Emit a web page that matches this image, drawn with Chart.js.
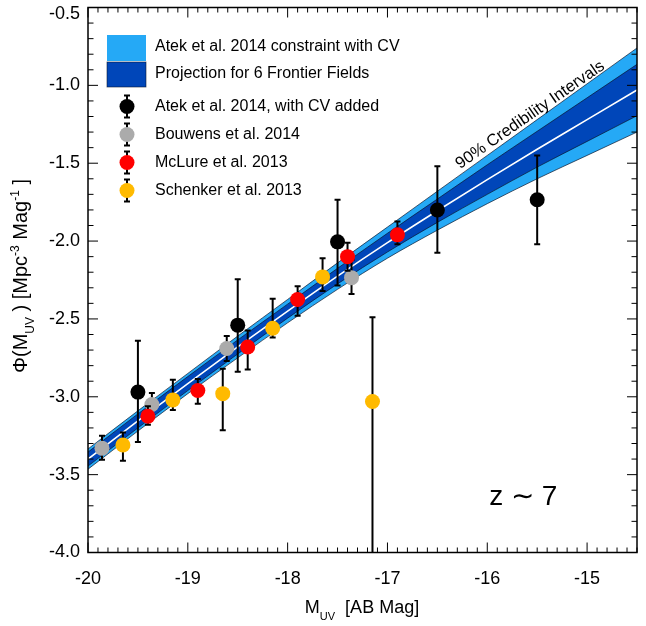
<!DOCTYPE html>
<html>
<head>
<meta charset="utf-8">
<script src="https://cdn.jsdelivr.net/npm/chart.js@4.4.1/dist/chart.umd.min.js"></script>
<style>
  html, body { margin: 0; padding: 0; background: #fff; }
  #wrap { width: 646px; height: 626px; }
</style>
</head>
<body>
<div id="wrap"><canvas id="lfChart" width="646" height="626"></canvas></div>
<script>
// axis ticks
const xTicks = [-20, -19, -18, -17, -16, -15];
const yTicks = [-4.0, -3.5, -3.0, -2.5, -2.0, -1.5, -1.0, -0.5];

const bandMag    = [-20, -19.5, -19, -18.5, -18, -17.5, -17, -16.5, -16, -15.5, -15, -14.5];
const bandCenter = [-3.40, -3.155, -2.915, -2.68, -2.45, -2.225, -2.01, -1.805, -1.605, -1.41, -1.22, -1.03];
const cvHi = [-3.335, -3.09, -2.85, -2.61, -2.375, -2.14, -1.91, -1.68, -1.45, -1.22, -0.99, -0.76];
const cvLo = [-3.465, -3.22, -2.98, -2.75, -2.525, -2.31, -2.11, -1.93, -1.76, -1.60, -1.45, -1.30];
const ffHi = [-3.355, -3.11, -2.87, -2.635, -2.405, -2.175, -1.95, -1.73, -1.51, -1.295, -1.08, -0.865];
const ffLo = [-3.445, -3.20, -2.96, -2.725, -2.495, -2.275, -2.07, -1.88, -1.70, -1.525, -1.36, -1.195];

// Atek et al. 2014, with CV added
const atekMag = [-19.5, -18.5, -17.5, -16.5, -15.5];
const atekPhi = [-2.97, -2.54, -2.005, -1.80, -1.735];
const atekHi  = [-2.64, -2.245, -1.735, -1.52, -1.45];
const atekLo  = [-3.29, -2.84, -2.285, -2.075, -2.02];

// Bouwens et al. 2014
const bouwMag = [-19.86, -19.36, -18.61, -17.36];
const bouwPhi = [-3.33, -3.05, -2.69, -2.235];
const bouwHi  = [-3.25, -2.975, -2.61, -2.12];
const bouwLo  = [-3.405, -3.125, -2.77, -2.34];

// McLure et al. 2013
const mclMag = [-19.40, -18.90, -18.40, -17.90, -17.40, -16.90];
const mclPhi = [-3.125, -2.96, -2.68, -2.375, -2.10, -1.96];
const mclHi  = [-3.06, -2.885, -2.575, -2.29, -2.01, -1.875];
const mclLo  = [-3.18, -3.045, -2.825, -2.48, -2.19, -2.02];

// Schenker et al. 2013 (last lower bar runs off the plot)
const schMag = [-19.65, -19.15, -18.65, -18.15, -17.65, -17.15];
const schPhi = [-3.31, -3.02, -2.98, -2.56, -2.23, -3.03];
const schHi  = [-3.23, -2.89, -2.82, -2.37, -2.11, -2.49];
const schLo  = [-3.41, -3.085, -3.215, -2.62, -2.32, -5.0];

const LIGHT = '#25A9F6';
const DARK = '#0046B9';
const FONT = '"Liberation Sans", Arial, Helvetica, sans-serif';

const xy = (xs, ys) => xs.map((v, i) => ({ x: v, y: ys[i] }));

function bandLine(label, ys, extra) {
    return Object.assign({
        type: 'line',
        label: label,
        data: xy(bandMag, ys),
        pointRadius: 0,
        borderColor: 'rgba(10,20,40,0.85)',
        borderWidth: 0.8,
        cubicInterpolationMode: 'monotone',
        fill: false
    }, extra);
}

function points(label, color, xs, ys, hi, lo, order) {
    return {
        type: 'scatter',
        label: label,
        data: xy(xs, ys),
        errHi: hi,
        errLo: lo,
        backgroundColor: color,
        borderWidth: 0,
        pointRadius: 7.5,
        order: order
    };
}

// vertical error bars, drawn just before each dataset's markers
const errorBars = {
    id: 'errorBars',
    beforeDatasetDraw(chart, args) {
        const ds = chart.data.datasets[args.index];
        if (!ds.errHi) return;
        const { ctx, chartArea: a, scales: { x, y } } = chart;
        ctx.save();
        ctx.beginPath();
        ctx.rect(a.left, a.top, a.right - a.left, a.bottom - a.top);
        ctx.clip();
        ctx.strokeStyle = '#000';
        ctx.lineWidth = 2;
        ds.data.forEach((p, i) => {
            const px = x.getPixelForValue(p.x);
            const top = y.getPixelForValue(ds.errHi[i]);
            const bot = y.getPixelForValue(ds.errLo[i]);
            ctx.beginPath();
            ctx.moveTo(px, top); ctx.lineTo(px, bot);
            ctx.moveTo(px - 3, top); ctx.lineTo(px + 3, top);
            ctx.moveTo(px - 3, bot); ctx.lineTo(px + 3, bot);
            ctx.stroke();
        });
        ctx.restore();
    }
};

function richText(ctx, parts, cx, cy, rot) {
    ctx.save();
    ctx.translate(cx, cy);
    ctx.rotate(rot || 0);
    let w = 0;
    parts.forEach(p => { ctx.font = p[1] + 'px ' + FONT; w += ctx.measureText(p[0]).width; });
    let x = -w / 2;
    ctx.textAlign = 'left';
    ctx.textBaseline = 'alphabetic';
    ctx.fillStyle = '#000';
    parts.forEach(p => {
        ctx.font = p[1] + 'px ' + FONT;
        ctx.fillText(p[0], x, 6.5 + p[2]);
        x += ctx.measureText(p[0]).width;
    });
    ctx.restore();
}

// box, inward ticks, labels, titles, annotations and legend
const frame = {
    id: 'frame',
    afterDraw(chart) {
        const { ctx, chartArea: a, scales: { x, y } } = chart;
        ctx.save();
        ctx.strokeStyle = '#000';

        ctx.lineWidth = 1;
        ctx.beginPath();
        for (let i = -200; i <= -145; i++) {
            const px = x.getPixelForValue(i / 10);
            const len = i % 10 === 0 ? 10 : 5;
            ctx.moveTo(px, a.bottom); ctx.lineTo(px, a.bottom - len);
            ctx.moveTo(px, a.top); ctx.lineTo(px, a.top + len);
        }
        for (let i = -40; i <= -5; i++) {
            const py = y.getPixelForValue(i / 10);
            const len = i % 5 === 0 ? 10 : 5.5;
            ctx.moveTo(a.left, py); ctx.lineTo(a.left + len, py);
            ctx.moveTo(a.right, py); ctx.lineTo(a.right - len, py);
        }
        ctx.stroke();

        ctx.lineWidth = 1.5;
        ctx.strokeRect(a.left, a.top, a.right - a.left, a.bottom - a.top);

        // tick labels
        ctx.fillStyle = '#000';
        ctx.font = '18px ' + FONT;
        ctx.textAlign = 'center';
        ctx.textBaseline = 'middle';
        x.ticks.forEach(t => ctx.fillText(String(t.value), x.getPixelForValue(t.value), 579));
        ctx.textAlign = 'right';
        y.ticks.forEach(t => {
            const py = Math.max(y.getPixelForValue(t.value), 14);
            ctx.fillText(t.value.toFixed(1), 80, py);
        });

        // axis titles
        richText(ctx, [['M', 18, 0], ['UV', 11, 7], ['  [AB Mag]', 18, 0]], 362, 606);
        richText(ctx, [['\u03A6(M', 20, 0], ['UV', 12, 7], [' ) [Mpc', 20, 0], ['-3', 12, -8],
                       [' Mag', 20, 0], ['-1', 12, -8], [' ]', 20, 0]], 20, 276, -Math.PI / 2);

        // annotations
        ctx.font = '16.5px ' + FONT;
        ctx.textAlign = 'center';
        ctx.textBaseline = 'middle';
        ctx.save();
        ctx.translate(x.getPixelForValue(-15.57), y.getPixelForValue(-1.19));
        ctx.rotate(-34.8 * Math.PI / 180);
        ctx.fillText('90% Credibility Intervals', 0, 0);
        ctx.restore();
        ctx.font = '28px ' + FONT;
        ctx.fillText('z \u223C 7', x.getPixelForValue(-15.64), y.getPixelForValue(-3.644));

        // legend
        const ds = chart.data.datasets;
        ctx.fillStyle = LIGHT;
        ctx.fillRect(107, 35, 39, 26);
        ctx.fillStyle = DARK;
        ctx.fillRect(107, 62, 39, 25);
        ctx.lineWidth = 0.8;
        ctx.strokeStyle = 'rgba(10,20,40,0.7)';
        ctx.strokeRect(107, 62, 39, 25);
        ctx.font = '16px ' + FONT;
        ctx.textAlign = 'left';
        ctx.fillStyle = '#000';
        ctx.fillText(ds[0].label, 155, 47);
        ctx.fillText(ds[2].label, 155, 74);
        const rows = ds.filter(d => d.errHi);
        rows.sort((p, q) => q.order - p.order);
        rows.forEach((d, i) => {
            const py = 106.5 + i * 28;
            ctx.strokeStyle = '#000';
            ctx.lineWidth = 2;
            ctx.beginPath();
            ctx.moveTo(127, py - 11); ctx.lineTo(127, py + 11);
            ctx.moveTo(124, py - 11); ctx.lineTo(130, py - 11);
            ctx.moveTo(124, py + 11); ctx.lineTo(130, py + 11);
            ctx.stroke();
            ctx.fillStyle = d.backgroundColor;
            ctx.beginPath();
            ctx.arc(127, py, 7.5, 0, Math.PI * 2);
            ctx.fill();
            ctx.fillStyle = '#000';
            ctx.fillText(d.label, 155, py);
        });
        ctx.restore();
    }
};

new Chart(document.getElementById('lfChart'), {
    type: 'scatter',
    data: {
        datasets: [
            bandLine('Atek et al. 2014 constraint with CV', cvHi, { fill: '+1', backgroundColor: LIGHT, order: 20 }),
            bandLine('cvLo', cvLo, { order: 19 }),
            bandLine('Projection for 6 Frontier Fields', ffHi, { fill: '+1', backgroundColor: DARK, order: 18 }),
            bandLine('ffLo', ffLo, { order: 17 }),
            bandLine('center', bandCenter, { borderColor: '#fff', borderWidth: 1.6, order: 16 }),
            points('Atek et al. 2014, with CV added', '#000000', atekMag, atekPhi, atekHi, atekLo, 4),
            points('Bouwens et al. 2014', '#ABABAB', bouwMag, bouwPhi, bouwHi, bouwLo, 3),
            points('McLure et al. 2013', '#FF0000', mclMag, mclPhi, mclHi, mclLo, 2),
            points('Schenker et al. 2013', '#FFBA00', schMag, schPhi, schHi, schLo, 1)
        ]
    },
    options: {
        responsive: false,
        animation: false,
        devicePixelRatio: 1,
        layout: { padding: { top: 4, right: 9, bottom: 0, left: 0 } },
        plugins: { legend: { display: false }, tooltip: { enabled: false } },
        scales: {
            x: {
                type: 'linear', min: -20, max: -14.5,
                afterBuildTicks: s => { s.ticks = xTicks.map(v => ({ value: v })); },
                afterFit: s => { s.height = 73.5; },
                ticks: { display: false },
                grid: { display: false },
                border: { display: false }
            },
            y: {
                type: 'linear', min: -4, max: -0.5,
                afterBuildTicks: s => { s.ticks = yTicks.map(v => ({ value: v })); },
                afterFit: s => { s.width = 88; },
                ticks: { display: false },
                grid: { display: false },
                border: { display: false }
            }
        }
    },
    plugins: [errorBars, frame]
});
</script>
</body>
</html>
